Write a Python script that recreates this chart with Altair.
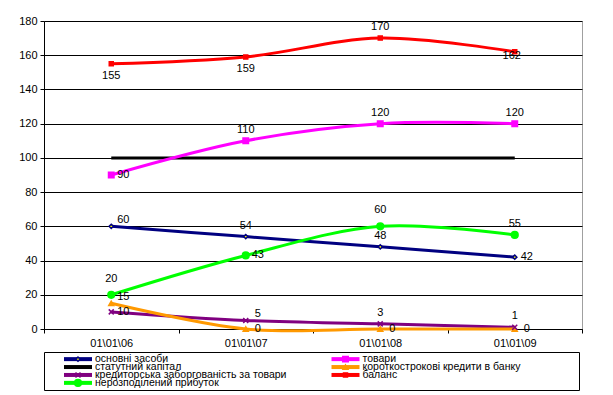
import altair as alt
import pandas as pd

# ---------------- data ----------------
dates = ["01\\01\\06", "01\\01\\07", "01\\01\\08", "01\\01\\09"]
osnovni = [60, 54, 48, 42]
tovary = [90, 110, 120, 120]
statutnyi = [100, 100, 100, 100]
kredyty_bank = [15, 0, 0, 0]
kredytorska = [10, 5, 3, 1]
balans = [155, 159, 170, 162]
prybutok = [20, 43, 60, 55]

N_OSN = "основні засоби"
N_TOV = "товари"
N_STAT = "статутний капітал"
N_KRED = "короткострокові кредити в банку"
N_KRZ = "кредиторська заборгованість за товари"
N_BAL = "баланс"
N_PRYB = "нерозподілений прибуток"

series_values = {
    N_OSN: osnovni, N_TOV: tovary, N_STAT: statutnyi, N_KRED: kredyty_bank,
    N_KRZ: kredytorska, N_BAL: balans, N_PRYB: prybutok,
}
# legend order (column-wise fill, 4 rows x 2 columns)
legend_order = [N_OSN, N_STAT, N_KRZ, N_PRYB, N_TOV, N_KRED, N_BAL]

# ---------------- styles ----------------
colors = {N_OSN: "#000080", N_TOV: "#FF00FF", N_STAT: "#000000", N_KRED: "#FF9900",
          N_KRZ: "#800080", N_BAL: "#FF0000", N_PRYB: "#00FF00"}
widths = {N_OSN: 3, N_TOV: 2, N_STAT: 3, N_KRED: 3, N_KRZ: 3, N_BAL: 3.5, N_PRYB: 3}
markers = {
    N_OSN: dict(shape="diamond", fill="#FFFF00", stroke="#000080", size=18),
    N_TOV: dict(shape="square", fill="#FF00FF", stroke="#FF00FF", size=30),
    N_KRED: dict(shape="triangle-up", fill="#FF9900", stroke="#FF9900", size=25),
    N_KRZ: dict(shape="M-1,-1L1,1M-1,1L1,-1", fill="#800080", stroke="#800080", size=25),
    N_BAL: dict(shape="square", fill="#FF0000", stroke="#FF0000", size=16),
    N_PRYB: dict(shape="circle", fill="#00FF00", stroke="#00FF00", size=45),
}
label_pos = {
    N_OSN: ["ra", "a", "a", "r"],
    N_TOV: ["r", "a", "a", "a"],
    N_KRED: ["ra", "r", "r", "r"],
    N_KRZ: ["r", "ra", "a", "a"],
    N_BAL: ["b", "b", "a", "c"],
    N_PRYB: ["a2", "r", "a2", "a"],
}
pos_offsets = {"a": (0, -11), "a2": (0, -16), "b": (0, 12), "r": (12, 0),
               "ra": (12, -6), "c": (-3, 4)}

FONT = "Liberation Sans"

rows = []
for name in legend_order:
    for d, v in zip(dates, series_values[name]):
        rows.append({"series": name, "date": d, "value": v})
df = pd.DataFrame(rows)

lab_rows = []
for name, poss in label_pos.items():
    for d, v, p in zip(dates, series_values[name], poss):
        lab_rows.append({"series": name, "date": d, "value": v, "pos": p})
ldf = pd.DataFrame(lab_rows)

leg_df = pd.DataFrame([{"series": n, "col": i // 4, "row": i % 4}
                       for i, n in enumerate(legend_order)])

color_scale = alt.Scale(domain=legend_order, range=[colors[n] for n in legend_order])

x_enc = alt.X("date:O", sort=dates,
              scale=alt.Scale(type="band", paddingInner=0, paddingOuter=0),
              axis=alt.Axis(title=None, labelAngle=0, tickBand="extent", grid=False,
                            domainColor="black", tickColor="black", labelColor="black",
                            labelFontSize=11, labelPadding=4, tickSize=4))
y_enc = alt.Y("value:Q", scale=alt.Scale(domain=[0, 180], nice=False),
              axis=alt.Axis(title=None, values=list(range(0, 181, 20)), grid=True,
                            gridColor="black", gridWidth=1, domainColor="black",
                            tickColor="black", labelColor="black", labelFontSize=11,
                            tickSize=4, labelPadding=3))

lines = alt.Chart(df).mark_line(interpolate="cardinal").encode(
    x=x_enc, y=y_enc,
    color=alt.Color("series:N", scale=color_scale, legend=None),
    strokeWidth=alt.StrokeWidth("series:N",
                                scale=alt.Scale(domain=legend_order,
                                                range=[widths[n] for n in legend_order]),
                                legend=None),
    detail="series:N",
)

layers = [lines]
for name, m in markers.items():
    layers.append(
        alt.Chart(df).transform_filter(alt.datum.series == name).mark_point(
            shape=m["shape"], fill=m["fill"], stroke=m["stroke"], size=m["size"],
            filled=True, opacity=1, strokeWidth=1.5
        ).encode(x=x_enc, y=y_enc)
    )

for code, (dx, dy) in pos_offsets.items():
    layers.append(
        alt.Chart(ldf).transform_filter(alt.datum.pos == code).mark_text(
            dx=dx, dy=dy, fontSize=11, font=FONT, color="black",
            align="center", baseline="middle"
        ).encode(x=x_enc, y=y_enc, text="value:Q")
    )

main = alt.layer(*layers).properties(
    width=538, height=308, view=alt.ViewBackground(stroke="#a0a0a0")
)

# ---------------- legend box ----------------
lx = alt.X("col:O", scale=alt.Scale(type="band", domain=[0, 1], paddingInner=0, paddingOuter=0),
           axis=None, bandPosition=0)
ly = alt.Y("row:O", scale=alt.Scale(type="band", domain=[0, 1, 2, 3], paddingInner=0,
                                    paddingOuter=0.4), axis=None)

leg_layers = [
    alt.Chart(leg_df).mark_point(shape="M-1,0L1,0", size=784, filled=False, strokeWidth=4,
                                 opacity=1, xOffset=34).encode(
        x=lx, y=ly, color=alt.Color("series:N", scale=color_scale, legend=None))
]
for name, m in markers.items():
    leg_layers.append(
        alt.Chart(leg_df).transform_filter(alt.datum.series == name).mark_point(
            shape=m["shape"], fill=m["fill"], stroke=m["stroke"], size=m["size"],
            filled=True, opacity=1, strokeWidth=1.5, xOffset=34
        ).encode(x=lx, y=ly)
    )
leg_layers.append(
    alt.Chart(leg_df).mark_text(dx=51, align="left", baseline="middle", fontSize=10.5,
                                font=FONT, color="black").encode(x=lx, y=ly, text="series:N")
)
legend_box = alt.layer(*leg_layers).properties(
    width=535, height=38, view=alt.ViewBackground(stroke="black", strokeWidth=1)
)

chart = alt.vconcat(main, legend_box, spacing=23, bounds="flush").properties(
    padding={"left": 10, "top": 6, "right": 5, "bottom": 0},
).configure(font=FONT)

chart.save("out.html", embed_options={"renderer": "svg", "actions": False})
